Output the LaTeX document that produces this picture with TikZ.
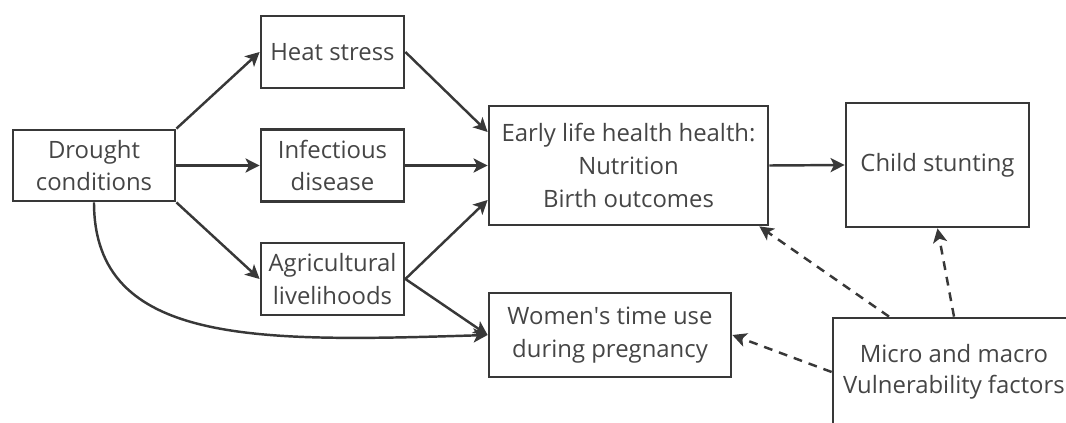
\documentclass[tikz,border=0pt]{standalone}
\usepackage{fontspec}
\setmainfont{Open Sans}
\usepackage{xcolor}
\usepackage{tikz}
\usetikzlibrary{positioning,shapes,arrows.meta}

\definecolor{boxline}{HTML}{383838}
\definecolor{txtgray}{HTML}{454545}

\tikzset{
    factor/.style={draw=boxline, line width=1.6pt, text=txtgray, align=center,
        inner sep=0pt, font=\fontsize{13.6}{18.7}\selectfont},
    link/.style={draw=boxline, line width=1.4pt, -{Stealth[length=8pt,width=8pt,inset=2pt]}},
    modlink/.style={link, dash pattern=on 5pt off 4pt}
}

\begin{document}
\begin{tikzpicture}[x=0.02cm, y=-0.02cm]

\useasboundingbox (0,0) rectangle (1066,423);

% Exposure
\node[factor, minimum width=3.24cm, minimum height=1.42cm] (drought) at (94,165.5) {Drought\\conditions};

% Pathways
\node[factor, minimum width=2.86cm, minimum height=1.44cm] (heat) at (332.5,52) {Heat stress};
\node[factor, minimum width=2.86cm, minimum height=1.44cm] (infect) at (332.5,165.5) {Infectious\\disease};
\node[factor, minimum width=2.86cm, minimum height=1.44cm] (agri) at (332.5,279) {Agricultural\\livelihoods};

% Intermediate outcomes
\node[factor, minimum width=5.58cm, minimum height=2.38cm] (early) at (628.5,165.5) {Early life health health:\\Nutrition\\Birth outcomes};
\node[factor, minimum width=4.84cm, minimum height=1.68cm] (women) at (610,335) {Women\textquotesingle s time use\\during pregnancy};

% Final outcome
\node[factor, minimum width=3.66cm, minimum height=2.48cm] (child) at (937.5,165) {Child stunting};

% Modifiers (box runs off the page)
\node[factor, minimum width=4.84cm, minimum height=2.16cm, font=\fontsize{13.6}{17.6}\selectfont] (micro) at (954,372) {Micro and macro\\Vulnerability factors};

% Drought to pathways
\draw[link] (drought.north east) -- (heat.west);
\draw[link] (drought.east) -- (infect.west);
\draw[link] (drought.south east) -- (agri.west);
\draw[link] (drought.south) .. controls +(0,144) and +(-228,7) .. (women.west);

% Pathways to outcomes
\draw[link] (heat.east) -- ([yshift=0.67cm]early.west);
\draw[link] (infect.east) -- (early.west);
\draw[link] (agri.east) -- ([yshift=-0.69cm]early.west);
\draw[link] (agri.east) -- (women.west);
\draw[link] (early.east) -- (child.west);

% Vulnerability factors
\draw[modlink] ([xshift=-1.3cm]micro.north) -- ([xshift=-0.2cm]early.south east);
\draw[modlink] (micro.north) -- (child.south);
\draw[modlink] (micro.west) -- (women.east);

\end{tikzpicture}
\end{document}
